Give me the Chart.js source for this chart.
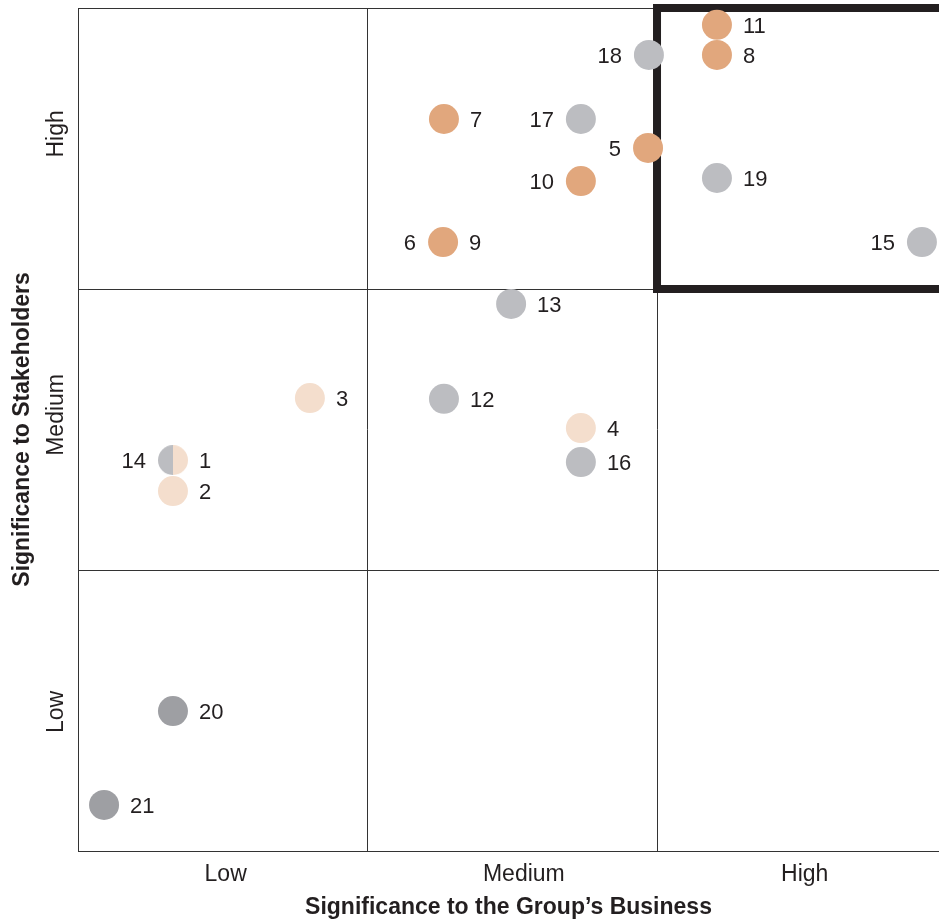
<!DOCTYPE html>
<html>
<head>
<meta charset="utf-8">
<script src="https://cdn.jsdelivr.net/npm/chart.js@4.4.0/dist/chart.umd.min.js"></script>
<style>
  html, body { margin: 0; padding: 0; background: #ffffff; }
  #wrap { width: 939px; height: 921px; }
</style>
</head>
<body>
<div id="wrap"><canvas id="c" width="939" height="921"></canvas></div>
<script>
// ---- Data (axis units: 0..3 = Low | Medium | High columns/rows) ----
const pointLeftText  = ['',  '',  '',  '18', '',  '17', '5',  '10', '6', '15', '',   '',  '',   '',  '',   '14', '',  '',   ''];
const pointRightText = ['11','8', '7', '',   '19','',   '',   '',   '9', '',   '13', '3', '12', '4', '16', '1',  '2', '20', '21'];
const pointX = [2.207, 2.207, 1.264, 1.972, 2.207, 1.737, 1.969, 1.737, 1.261, 2.915, 1.496, 0.801, 1.264, 1.737, 1.737, 0.328, 0.328, 0.328, 0.090];
const pointY = [2.940, 2.833, 2.605, 2.833, 2.395, 2.605, 2.502, 2.384, 2.167, 2.167, 1.947, 1.612, 1.609, 1.505, 1.384, 1.391, 1.281, 0.498, 0.164];
const pointGroup = ['orange','orange','orange','grey','grey','grey','orange','orange','orange','grey','grey','peach','grey','peach','grey','split','peach','dark','dark'];

const xCategories = ['Low', 'Medium', 'High'];
const xCategoryPos = [0.51, 1.54, 2.51];
const yCategories = ['Low', 'Medium', 'High'];
const yCategoryPos = [0.495, 1.552, 2.552];

const xTitle = 'Significance to the Group\u2019s Business';
const yTitle = 'Significance to Stakeholders';

// ---- Styles ----
const COLORS = { orange: '#E1A77D', grey: '#BCBDC1', peach: '#F4DECD', dark: '#9E9FA3' };
const TEXT = '#231F20';
const FONT = '"Liberation Sans", Arial, Helvetica, sans-serif';
const R = 15;

function splitDot(r, leftColor, rightColor) {
  const c = document.createElement('canvas');
  c.width = 2 * r; c.height = 2 * r;
  const g = c.getContext('2d');
  g.fillStyle = leftColor;
  g.beginPath(); g.moveTo(r, r); g.arc(r, r, r, Math.PI / 2, Math.PI * 1.5); g.closePath(); g.fill();
  g.fillStyle = rightColor;
  g.beginPath(); g.moveTo(r, r); g.arc(r, r, r, -Math.PI / 2, Math.PI / 2); g.closePath(); g.fill();
  return c;
}

const groups = ['orange', 'grey', 'peach', 'dark', 'split'];
const datasets = groups.map(gname => {
  const data = [], lt = [], rt = [];
  pointX.forEach((x, i) => {
    if (pointGroup[i] === gname) {
      data.push({ x: x, y: pointY[i] });
      lt.push(pointLeftText[i]); rt.push(pointRightText[i]);
    }
  });
  const ds = {
    label: gname, data: data, leftText: lt, rightText: rt,
    pointRadius: R, pointHoverRadius: R, borderWidth: 0, clip: false
  };
  if (gname === 'split') {
    ds.pointStyle = splitDot(R, COLORS.grey, COLORS.peach);
    ds.backgroundColor = COLORS.grey;
  } else {
    ds.backgroundColor = COLORS[gname];
    ds.pointStyle = 'circle';
  }
  return ds;
});

const boxPlugin = {
  id: 'box',
  beforeDatasetsDraw(chart) {
    const { ctx, scales: { x, y }, chartArea } = chart;
    const l = x.getPixelForValue(2), t = y.getPixelForValue(3), b = y.getPixelForValue(2);
    ctx.save();
    ctx.strokeStyle = TEXT; ctx.lineWidth = 8;
    ctx.beginPath();
    ctx.moveTo(chartArea.right + 10, t);
    ctx.lineTo(l, t);
    ctx.lineTo(l, b);
    ctx.lineTo(chartArea.right + 10, b);
    ctx.stroke();
    ctx.restore();
  }
};

const labelPlugin = {
  id: 'ptLabels',
  afterDatasetsDraw(chart) {
    const ctx = chart.ctx;
    ctx.save();
    ctx.font = '22px ' + FONT;
    ctx.fillStyle = TEXT;
    ctx.textBaseline = 'middle';
    chart.data.datasets.forEach((ds, di) => {
      const meta = chart.getDatasetMeta(di);
      meta.data.forEach((el, i) => {
        const lt = ds.leftText[i], rt = ds.rightText[i];
        if (lt) { ctx.textAlign = 'right'; ctx.fillText(lt, el.x - 27, el.y + 2); }
        if (rt) { ctx.textAlign = 'left'; ctx.fillText(rt, el.x + 26, el.y + 2); }
      });
    });
    // y category labels (rotated)
    const ys = chart.scales.y;
    ctx.font = '23px ' + FONT;
    ctx.textAlign = 'center';
    yCategories.forEach((lab, i) => {
      ctx.save();
      ctx.translate(57, ys.getPixelForValue(yCategoryPos[i]));
      ctx.rotate(-Math.PI / 2);
      ctx.fillText(lab, 0, 0);
      ctx.restore();
    });
    ctx.restore();
  }
};

new Chart(document.getElementById('c'), {
  type: 'scatter',
  data: { datasets: datasets },
  plugins: [boxPlugin, labelPlugin],
  options: {
    responsive: false,
    animation: false,
    devicePixelRatio: 1,
    layout: { autoPadding: false, padding: { top: 8, right: 0, left: 0, bottom: 0 } },
    plugins: { legend: { display: false }, tooltip: { enabled: false } },
    scales: {
      x: {
        type: 'linear', min: 0, max: 2.974,
        afterBuildTicks(s) { s.ticks = [0, xCategoryPos[0], 1, xCategoryPos[1], 2, xCategoryPos[2]].map(v => ({ value: v })); },
        afterFit(s) { s.height = 70; },
        grid: {
          drawTicks: false,
          color: c => (Number.isInteger(c.tick.value) ? '#333333' : 'rgba(0,0,0,0)'),
          lineWidth: 1
        },
        border: { display: true, color: '#333333', width: 1 },
        ticks: {
          padding: 10, color: TEXT, maxRotation: 0, autoSkip: false,
          font: { family: FONT, size: 23 },
          callback: v => { const k = xCategoryPos.indexOf(v); return k >= 0 ? xCategories[k] : ''; }
        },
        title: {
          display: true, text: xTitle, color: TEXT,
          font: { family: FONT, size: 23, weight: 'bold' },
          padding: { top: 0, bottom: 0 }
        }
      },
      y: {
        type: 'linear', min: 0, max: 3,
        afterBuildTicks(s) { s.ticks = [0, 1, 2, 3].map(v => ({ value: v })); },
        afterFit(s) { s.width = 78; },
        grid: { drawTicks: false, color: '#333333', lineWidth: 1 },
        border: { display: true, color: '#333333', width: 1 },
        ticks: { display: false },
        title: {
          display: true, text: yTitle, color: TEXT,
          font: { family: FONT, size: 23, weight: 'bold' },
          padding: { top: 9, bottom: 0 }
        }
      }
    }
  }
});
</script>
</body>
</html>
